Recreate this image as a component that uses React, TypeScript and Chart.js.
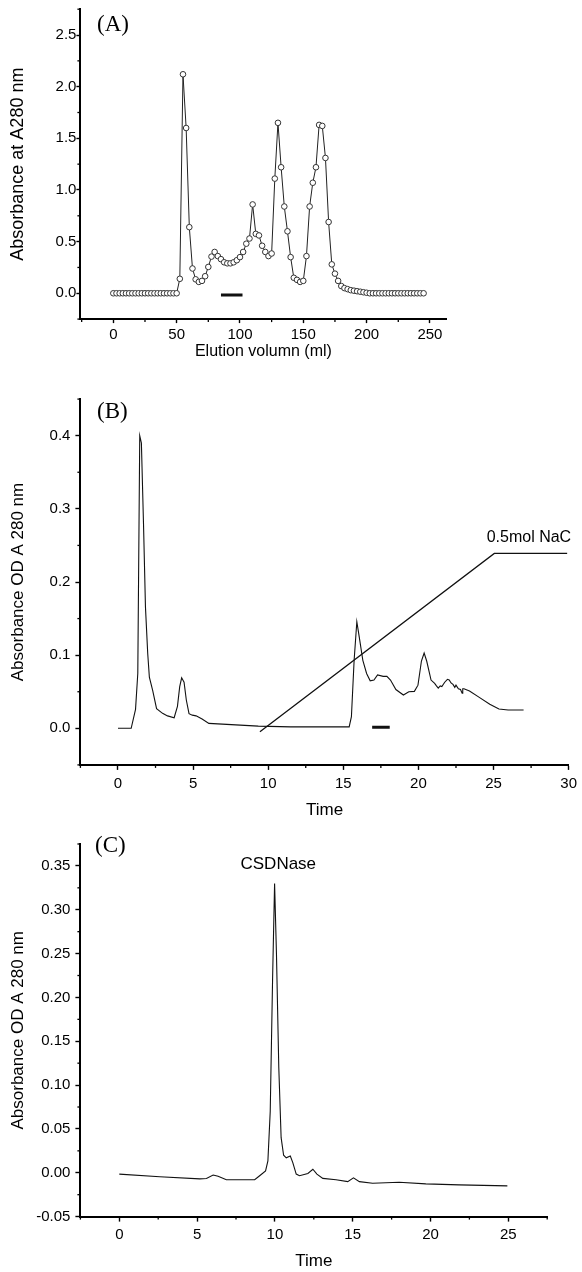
import React, { useEffect, useRef } from 'react';
import { Chart, registerables } from 'chart.js';

Chart.register(...registerables);

const SANS = '"Liberation Sans", Arial, Helvetica, sans-serif';
const SERIF = '"Liberation Serif", "Times New Roman", serif';

// ---------- Panel A : gel filtration ----------
const aVolume = [0, 2.5, 5, 7.5, 10, 12.5, 15, 17.5, 20, 22.5, 25, 27.5, 30, 32.5, 35, 37.5, 40, 42.5, 45, 47.5, 50,
  52.5, 55, 57.5, 60, 62.5, 65, 67.5, 70, 72.5, 75, 77.5, 80, 82.5, 85, 87.5, 90, 92.5, 95, 97.5, 100,
  102.5, 105, 107.5, 110, 112.5, 115, 117.5, 120, 122.5, 125, 127.5, 130, 132.5, 135, 137.5, 140, 142.5, 145, 147.5, 150,
  152.5, 155, 157.5, 160, 162.5, 165, 167.5, 170, 172.5, 175, 177.5, 180, 182.5, 185, 187.5, 190, 192.5, 195, 197.5, 200,
  202.5, 205, 207.5, 210, 212.5, 215, 217.5, 220, 222.5, 225, 227.5, 230, 232.5, 235, 237.5, 240, 242.5, 245];
const aAbsorbance = [0, 0, 0, 0, 0, 0, 0, 0, 0, 0, 0, 0, 0, 0, 0, 0, 0, 0, 0, 0, 0,
  0.14, 2.12, 1.6, 0.64, 0.24, 0.135, 0.11, 0.12, 0.165, 0.255, 0.355, 0.4, 0.36, 0.33, 0.3, 0.29, 0.29, 0.3, 0.32, 0.35,
  0.4, 0.48, 0.53, 0.86, 0.575, 0.56, 0.46, 0.4, 0.36, 0.385, 1.11, 1.65, 1.22, 0.84, 0.6, 0.35, 0.15, 0.13, 0.11, 0.12,
  0.36, 0.84, 1.07, 1.22, 1.63, 1.62, 1.31, 0.69, 0.28, 0.19, 0.12, 0.07, 0.05, 0.04, 0.03, 0.025, 0.02, 0.015, 0.01, 0.005,
  0, 0, 0, 0, 0, 0, 0, 0, 0, 0, 0, 0, 0, 0, 0, 0, 0, 0];
const aBarX = [85, 102];
const aBarY = [-0.016, -0.016];
const aXTicks = [0, 50, 100, 150, 200, 250];
const aXMinor = [-25, 25, 75, 125, 175, 225];
const aYTicks = [0, 0.5, 1, 1.5, 2, 2.5];
const aYMinor = [-0.25, 0.25, 0.75, 1.25, 1.75, 2.25, 2.75];

// ---------- Panel B : ion exchange ----------
const bTime = [0, 0.88, 1.17, 1.32, 1.45, 1.56, 1.7, 1.83, 1.98, 2.09, 2.31, 2.57, 2.97, 3.3, 3.74, 3.96, 4.11, 4.24, 4.4, 4.55,
  4.73, 4.95, 5.2, 5.6, 6.05, 9.34, 11.5, 15.39, 15.54, 15.72, 15.9, 16.06, 16.3, 16.55, 16.79, 17.04, 17.28, 17.65, 17.9, 18.14,
  18.5, 19.0, 19.36, 19.73, 19.97, 20.2, 20.38, 20.55, 20.84, 21.08, 21.2, 21.32, 21.45, 21.56, 21.75, 21.93, 22.05, 22.17, 22.3, 22.42,
  22.5, 22.66, 22.8, 22.91, 22.95, 23.03, 23.4, 24.0, 24.75, 25.36, 25.97, 27.0];
const bAbsorbance = [0, 0, 0.026, 0.075, 0.4, 0.39, 0.28, 0.166, 0.1025, 0.07, 0.052, 0.027, 0.0205, 0.017, 0.0145, 0.03, 0.057, 0.069, 0.063, 0.0387,
  0.02, 0.018, 0.017, 0.0127, 0.0068, 0.003, 0.002, 0.002, 0.016, 0.093, 0.1457, 0.125, 0.093, 0.075, 0.065, 0.066, 0.073, 0.071, 0.071, 0.066,
  0.053, 0.0455, 0.05, 0.0505, 0.059, 0.092, 0.103, 0.092, 0.066, 0.0615, 0.058, 0.055, 0.058, 0.057, 0.063, 0.067, 0.066, 0.062, 0.06, 0.056,
  0.059, 0.054, 0.053, 0.048, 0.054, 0.054, 0.051, 0.043, 0.033, 0.0264, 0.025, 0.025];
const bGradientX = [9.45, 25.05, 29.9];
const bGradientY = [-0.0046, 0.239, 0.239];
const bGradientLabel = '0.5mol NaC';
const bBarX = [16.92, 18.09];
const bBarY = [0.0014, 0.0014];
const bXTicks = [0, 5, 10, 15, 20, 25, 30];
const bXMinor = [-2.5, 2.5, 7.5, 12.5, 17.5, 22.5, 27.5];
const bYTicks = [0, 0.1, 0.2, 0.3, 0.4];
const bYMinor = [-0.05, 0.05, 0.15, 0.25, 0.35, 0.45];

// ---------- Panel C : purified enzyme ----------
const cTime = [0, 2.6, 5.17, 5.6, 6.03, 6.35, 6.88, 7.74, 8.7, 9.02, 9.4, 9.55, 9.7, 9.85, 9.98, 10.1, 10.25, 10.4, 10.56, 10.73,
  10.99, 11.15, 11.37, 11.58, 12.12, 12.44, 12.7, 13.08, 13.93, 14.68, 15.05, 15.43, 16.28, 17.99, 19.7, 21.84, 24.94];
const cAbsorbance = [-0.0015, -0.0045, -0.007, -0.0065, -0.0026, -0.004, -0.0079, -0.008, -0.008, -0.0034, 0.0022, 0.0135, 0.07, 0.22, 0.33, 0.25, 0.12, 0.04, 0.02, 0.017,
  0.019, 0.0116, -0.0015, -0.0034, -0.0008, 0.004, -0.0015, -0.0064, -0.008, -0.0101, -0.0058, -0.0101, -0.012, -0.0109, -0.0127, -0.0138, -0.015];
const cPeakLabel = 'CSDNase';
const cPeakTime = 9.98;
const cPeakValue = 0.33;
const cXTicks = [0, 5, 10, 15, 20, 25];
const cXMinor = [-2.5, 2.5, 7.5, 12.5, 17.5, 22.5, 27.5];
const cYTicks = [-0.05, 0, 0.05, 0.1, 0.15, 0.2, 0.25, 0.3, 0.35];
const cYMinor = [-0.025, 0.025, 0.075, 0.125, 0.175, 0.225, 0.275, 0.325, 0.375];

const pts = (xs: number[], ys: number[]) => xs.map((x, i) => ({ x, y: ys[i] }));

const curve = (xs: number[], ys: number[], width = 1.1) => ({
  data: pts(xs, ys),
  borderColor: '#111',
  borderWidth: width,
  pointRadius: 0,
  tension: 0,
  fill: false,
});

function buildConfig(p: any) {
  const cb = p.top + p.height; // canvas bottom in page coords
  const minorPlugin = {
    id: 'minorTicks',
    afterDraw(chart: any) {
      const { ctx, chartArea: a } = chart;
      const xs = chart.scales.x;
      const ys = chart.scales.y;
      ctx.save();
      ctx.strokeStyle = '#000';
      ctx.lineWidth = 1.3;
      p.xMinor.forEach((v: number) => {
        const px = xs.getPixelForValue(v);
        ctx.beginPath();
        ctx.moveTo(px, a.bottom);
        ctx.lineTo(px, a.bottom + p.minorLen);
        ctx.stroke();
      });
      p.yMinor.forEach((v: number) => {
        const py = ys.getPixelForValue(v);
        ctx.beginPath();
        ctx.moveTo(a.left, py);
        ctx.lineTo(a.left - p.minorLen, py);
        ctx.stroke();
      });
      ctx.restore();
    },
  };
  const textPlugin = {
    id: 'texts',
    afterDatasetsDraw(chart: any) {
      const { ctx } = chart;
      const xs = chart.scales.x;
      const ys = chart.scales.y;
      ctx.save();
      ctx.fillStyle = '#000';
      ctx.textBaseline = 'middle';
      p.texts.forEach((t: any) => {
        ctx.font = t.font;
        ctx.textAlign = t.align;
        let x, y;
        if (t.at) {
          x = xs.getPixelForValue(t.at[0]) + t.dx;
          y = ys.getPixelForValue(t.at[1]) + t.dy;
        } else {
          x = t.page[0];
          y = t.page[1] - p.top;
        }
        ctx.fillText(t.text, x, y);
      });
      ctx.restore();
    },
  };
  return {
    type: 'line',
    data: { datasets: p.datasets },
    options: {
      responsive: false,
      maintainAspectRatio: false,
      animation: false,
      devicePixelRatio: 1,
      events: [],
      layout: {
        autoPadding: false,
        padding: { left: 0, right: 582 - p.area.right, top: p.area.top - p.top, bottom: 0 },
      },
      plugins: { legend: { display: false }, tooltip: { enabled: false } },
      scales: {
        x: {
          type: 'linear',
          position: 'bottom',
          min: p.xMin,
          max: p.xMax,
          afterFit: (s: any) => { s.height = cb - p.area.bottom; },
          afterBuildTicks: (s: any) => { s.ticks = p.xTicks.map((v: number) => ({ value: v })); },
          grid: { display: true, drawOnChartArea: false, drawTicks: true, tickLength: p.majorLen, tickWidth: 1.4, tickColor: '#000' },
          border: { display: true, color: '#000', width: 2 },
          ticks: {
            autoSkip: false, maxRotation: 0, color: '#000', padding: p.xTickPad,
            font: { family: SANS, size: p.tickSize },
            callback: (v: number) => p.xFmt(v),
          },
          title: {
            display: true, text: p.xTitle, color: '#000',
            font: { family: SANS, size: p.xTitleSize },
            padding: { top: 0, bottom: cb - p.xTitleY - p.xTitleSize * 0.6 },
          },
        },
        y: {
          type: 'linear',
          position: 'left',
          min: p.yMin,
          max: p.yMax,
          afterFit: (s: any) => { s.width = p.area.left; },
          afterBuildTicks: (s: any) => { s.ticks = p.yTicks.map((v: number) => ({ value: v })); },
          grid: { display: true, drawOnChartArea: false, drawTicks: true, tickLength: p.majorLen, tickWidth: 1.4, tickColor: '#000' },
          border: { display: true, color: '#000', width: 2 },
          ticks: {
            autoSkip: false, color: '#000', padding: p.yTickPad,
            font: { family: SANS, size: p.tickSize },
            callback: (v: number) => p.yFmt(v),
          },
          title: {
            display: true, text: p.yTitle, color: '#000',
            font: { family: SANS, size: p.yTitleSize },
            padding: { top: p.yTitleX - p.yTitleSize * 0.6, bottom: 0 },
          },
        },
      },
    },
    plugins: [minorPlugin, textPlugin],
  };
}

const panelA = {
  top: 0, height: 380,
  area: { left: 80.4, right: 446.4, top: 9.2, bottom: 319.1 },
  xMin: -26, xMax: 263, yMin: -0.25, yMax: 2.75,
  xTicks: aXTicks, xMinor: aXMinor, yTicks: aYTicks, yMinor: aYMinor,
  xFmt: (v: number) => String(v), yFmt: (v: number) => v.toFixed(1),
  majorLen: 4, minorLen: 3, tickSize: 15, xTickPad: 3, yTickPad: 0,
  xTitle: 'Elution volumn (ml)', xTitleSize: 16, xTitleY: 352,
  yTitle: 'Absorbance at A280 nm', yTitleSize: 18, yTitleX: 18.5,
  datasets: [
    {
      data: pts(aVolume, aAbsorbance),
      borderColor: '#222', borderWidth: 1, tension: 0, fill: false,
      pointRadius: 2.8, pointBackgroundColor: '#fff', pointBorderColor: '#333', pointBorderWidth: 1,
    },
    curve(aBarX, aBarY, 3),
  ],
  texts: [{ text: '(A)', font: `23px ${SERIF}`, align: 'left', page: [97, 25] }],
};

const panelB = {
  top: 380, height: 450,
  area: { left: 80.4, right: 573.3, top: 399.1, bottom: 764.9 },
  xMin: -2.5, xMax: 30, yMin: -0.05, yMax: 0.45,
  xTicks: bXTicks, xMinor: bXMinor, yTicks: bYTicks, yMinor: bYMinor,
  xFmt: (v: number) => String(v), yFmt: (v: number) => v.toFixed(1),
  majorLen: 5, minorLen: 3, tickSize: 15, xTickPad: 5, yTickPad: 5,
  xTitle: 'Time', xTitleSize: 17, xTitleY: 810,
  yTitle: 'Absorbance OD A 280 nm', yTitleSize: 17, yTitleX: 18,
  datasets: [
    curve(bTime, bAbsorbance, 1.1),
    curve(bGradientX, bGradientY, 1.3),
    curve(bBarX, bBarY, 3),
  ],
  texts: [
    { text: '(B)', font: `23px ${SERIF}`, align: 'left', page: [97, 412] },
    { text: bGradientLabel, font: `16px ${SANS}`, align: 'left', at: [bGradientX[1], bGradientY[1]], dx: -7.6, dy: -16 },
  ],
};

const panelC = {
  top: 830, height: 442,
  area: { left: 80.4, right: 547.2, top: 837.7, bottom: 1216.6 },
  xMin: -2.5, xMax: 27.5, yMin: -0.05, yMax: 0.375,
  xTicks: cXTicks, xMinor: cXMinor, yTicks: cYTicks, yMinor: cYMinor,
  xFmt: (v: number) => String(v), yFmt: (v: number) => v.toFixed(2),
  majorLen: 5, minorLen: 3, tickSize: 15, xTickPad: 4.4, yTickPad: 5,
  xTitle: 'Time', xTitleSize: 17, xTitleY: 1261.7,
  yTitle: 'Absorbance OD A 280 nm', yTitleSize: 17, yTitleX: 18,
  datasets: [curve(cTime, cAbsorbance, 1.1)],
  texts: [
    { text: '(C)', font: `23px ${SERIF}`, align: 'left', page: [95, 846] },
    { text: cPeakLabel, font: `17px ${SANS}`, align: 'center', at: [cPeakTime, cPeakValue], dx: 3.7, dy: -19.6 },
  ],
};

function Panel({ spec }: { spec: any }) {
  const ref = useRef<HTMLCanvasElement>(null);
  useEffect(() => {
    const chart = new Chart(ref.current as HTMLCanvasElement, buildConfig(spec) as any);
    return () => chart.destroy();
  }, [spec]);
  return (
    <canvas
      ref={ref}
      width={582}
      height={spec.height}
      style={{ position: 'absolute', left: 0, top: spec.top, width: 582, height: spec.height, display: 'block' }}
    />
  );
}

export default function App() {
  return (
    <div style={{ position: 'absolute', left: 0, top: 0, width: 582, height: 1272, background: '#fff', overflow: 'hidden' }}>
      <Panel spec={panelA} />
      <Panel spec={panelB} />
      <Panel spec={panelC} />
    </div>
  );
}
